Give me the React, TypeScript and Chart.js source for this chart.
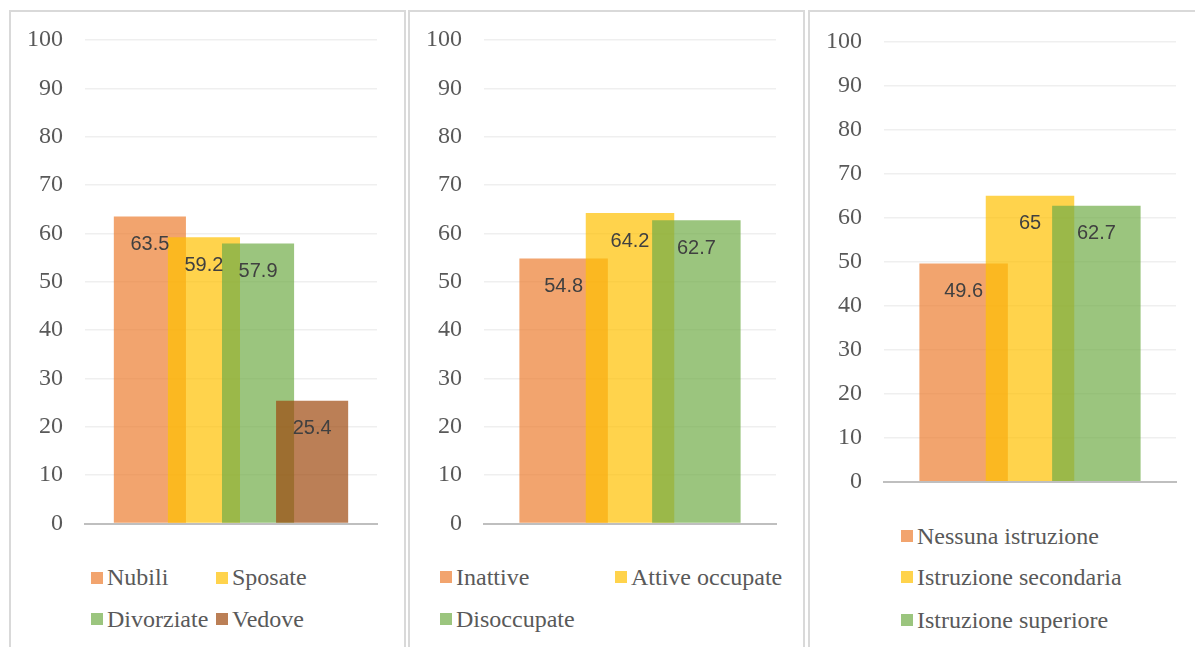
import React, { useEffect, useRef } from "react";
import { Chart, registerables } from "chart.js";

Chart.register(...registerables);

// Series per panel
const maritalLabels = ["Nubili", "Sposate", "Divorziate", "Vedove"];
const maritalValues = [63.5, 59.2, 57.9, 25.4];

const workLabels = ["Inattive", "Attive occupate", "Disoccupate"];
const workValues = [54.8, 64.2, 62.7];

const eduLabels = ["Nessuna istruzione", "Istruzione secondaria", "Istruzione superiore"];
const eduValues = [49.6, 65, 62.7];

// Value axis
const yMin = 0;
const yMax = 100;
const yStep = 10;

// Office palette, drawn at 70% opacity
const palette = [
  "rgba(237,125,49,0.7)",
  "rgba(255,192,0,0.7)",
  "rgba(112,173,71,0.7)",
  "rgba(158,72,14,0.7)",
];

// Excel-like clustered geometry: gap width 80%, overlap 25%
const OVERLAP = 0.25;
const GAP_WIDTH = 0.8;

const TEXT_GREY = "#595959";
const SERIF = '"Liberation Serif", "Times New Roman", serif';

// Draw datasets in index order (later series over earlier ones) and put value labels on top
const overlapDrawPlugin = {
  id: "overlapDraw",
  beforeDatasetsDraw(chart: any) {
    const metas = chart.getSortedVisibleDatasetMetas().slice().sort((a: any, b: any) => a.index - b.index);
    for (const meta of metas) meta.controller.draw();
    const ctx = chart.ctx;
    ctx.save();
    ctx.font = '20px "Liberation Sans", Arial, sans-serif';
    ctx.fillStyle = "#404040";
    ctx.textAlign = "center";
    ctx.textBaseline = "middle";
    for (const meta of metas) {
      const ds = chart.data.datasets[meta.index];
      meta.data.forEach((el: any, i: number) => {
        const v = ds.data[i];
        if (v == null) return;
        ctx.fillText(String(v), el.x, el.y + 28);
      });
    }
    ctx.restore();
    return false;
  },
};

type PanelProps = {
  labels: string[];
  values: number[];
  left: number;
  plotTop: number;
  plotBottom: number;
  legendLeft: number;
  legendRows: number[];
  legendColumns: number;
  columnWidth: number;
};

function BarPanel(props: PanelProps) {
  const { labels, values, left, plotTop, plotBottom, legendLeft, legendRows, legendColumns, columnWidth } = props;
  const canvasRef = useRef<HTMLCanvasElement | null>(null);
  const canvasHeight = Math.ceil(plotBottom + 6);

  useEffect(() => {
    const n = labels.length;
    const categoryPercentage = (n * (1 - OVERLAP)) / (n - (n - 1) * OVERLAP + GAP_WIDTH);
    const barPercentage = 1 / (1 - OVERLAP);
    const chart = new Chart(canvasRef.current as HTMLCanvasElement, {
      type: "bar",
      data: {
        labels: [""],
        datasets: labels.map((name, i) => ({
          label: name,
          data: [values[i]],
          backgroundColor: palette[i],
          borderWidth: 0,
          categoryPercentage,
          barPercentage,
        })),
      },
      options: {
        responsive: false,
        animation: false,
        devicePixelRatio: 1,
        layout: { padding: { top: plotTop, right: 14, bottom: canvasHeight - plotBottom, left: 0 } },
        plugins: { legend: { display: false }, tooltip: { enabled: false } },
        scales: {
          x: {
            type: "category",
            offset: true,
            grid: { display: false, drawTicks: false },
            ticks: { display: false },
            border: { display: true, color: "#bfbfbf", width: 2 },
            afterFit: (s: any) => {
              s.height = 0;
              s.paddingLeft = 0;
              s.paddingRight = 0;
            },
          },
          y: {
            min: yMin,
            max: yMax,
            ticks: {
              stepSize: yStep,
              padding: 22,
              color: TEXT_GREY,
              font: { family: SERIF, size: 24 },
            },
            grid: {
              drawTicks: false,
              lineWidth: 1.5,
              color: (c: any) => (c.tick && c.tick.value === 0 ? "rgba(0,0,0,0)" : "#efefef"),
            },
            border: { display: false },
            afterFit: (s: any) => {
              s.width = 74;
              s.paddingTop = 0;
              s.paddingBottom = 0;
            },
          },
        },
      },
      plugins: [overlapDrawPlugin],
    } as any);
    return () => chart.destroy();
  }, []);

  return (
    <div
      style={{
        position: "absolute",
        left,
        top: 10,
        width: 397,
        height: 660,
        border: "2px solid #d9d9d9",
        boxSizing: "border-box",
        background: "#fff",
        overflow: "hidden",
      }}
    >
      <canvas
        ref={canvasRef}
        width={380}
        height={canvasHeight}
        style={{ position: "absolute", left: 0, top: 0, width: 380, height: canvasHeight }}
      />
      {labels.map((name, i) => {
        const col = i % legendColumns;
        const row = Math.floor(i / legendColumns);
        return (
          <div
            key={name}
            style={{
              position: "absolute",
              left: legendLeft + col * columnWidth,
              top: legendRows[row] - 20,
              height: 40,
              display: "flex",
              alignItems: "center",
              whiteSpace: "nowrap",
            }}
          >
            <span style={{ width: 12, height: 12, background: palette[i], marginRight: 4, flex: "none" }} />
            <span style={{ fontFamily: SERIF, fontSize: 24, color: TEXT_GREY, lineHeight: "normal" }}>{name}</span>
          </div>
        );
      })}
    </div>
  );
}

export default function App() {
  return (
    <div
      style={{
        position: "absolute",
        left: 0,
        top: 0,
        width: 1195,
        height: 647,
        overflow: "hidden",
        background: "#fff",
      }}
    >
      <BarPanel
        labels={maritalLabels}
        values={maritalValues}
        left={9}
        plotTop={28}
        plotBottom={511.5}
        legendLeft={80}
        legendRows={[565.7, 607]}
        legendColumns={2}
        columnWidth={125}
      />
      <BarPanel
        labels={workLabels}
        values={workValues}
        left={408}
        plotTop={28}
        plotBottom={511.5}
        legendLeft={30}
        legendRows={[565.3, 607]}
        legendColumns={2}
        columnWidth={175}
      />
      <BarPanel
        labels={eduLabels}
        values={eduValues}
        left={808}
        plotTop={29.7}
        plotBottom={469.7}
        legendLeft={91}
        legendRows={[524, 565.3, 608]}
        legendColumns={1}
        columnWidth={0}
      />
    </div>
  );
}
